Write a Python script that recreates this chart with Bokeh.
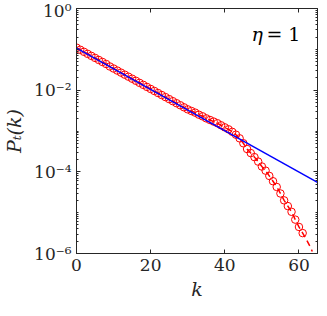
from bokeh.plotting import figure
from bokeh.models import LinearAxis, LogAxis, FixedTicker, CustomJSTickFormatter, Label
from bokeh.embed import file_html
from bokeh.resources import INLINE

# ---- data ----
k_data = list(range(0, 62))
p_data = [0.110, 0.0977, 0.0871, 0.0776, 0.0692, 0.0617, 0.0550, 0.0490, 0.0437, 0.0380,
          0.0339, 0.0302, 0.0269, 0.0240, 0.0214, 0.0191, 0.0170, 0.0151, 0.0135, 0.0120,
          0.0107, 0.00955, 0.00851, 0.00759, 0.00676, 0.00603, 0.00537, 0.00479, 0.00427, 0.00380,
          0.00339, 0.00309, 0.00282, 0.00251, 0.00229, 0.00204, 0.00186, 0.00170, 0.00155, 0.00138,
          0.00123, 0.00110, 0.000955, 0.000813, 0.000661, 0.000501, 0.000363, 0.000288, 0.000229, 0.000178,
          0.000135, 0.000107, 7.94e-5, 5.89e-5, 4.27e-5, 2.95e-5, 2.00e-5, 1.45e-5, 1.05e-5, 6.76e-6,
          4.47e-6, 3.16e-6]

fit_k = k_data + [62, 63, 63.6]
fit_p = p_data + [2.19e-6, 1.48e-6, 1.12e-6]

geom_k = [0, 65]
geom_p = [0.107, 5.5e-5]

x_ticks = [0, 20, 40, 60]
y_ticks = [1e-6, 1e-4, 1e-2, 1]
y_minor = [m * 10.0 ** e for e in range(-6, 0) for m in range(1, 10) if not (m == 1 and e % 2 == 0)]

TXT = "#262626"
FONT = "DejaVu Serif"

p = figure(width=319, height=308, y_axis_type="log", x_range=(0, 65), y_range=(1e-6, 1),
           output_backend="svg", toolbar_location=None,
           min_border_left=68, min_border_right=2, min_border_top=8, min_border_bottom=55)
p.grid.visible = False
p.outline_line_color = TXT
p.background_fill_color = "white"
p.border_fill_color = "white"

sup = CustomJSTickFormatter(code="""
const e = Math.round(Math.log10(tick));
const m = {'0':'\u2070','1':'\u00b9','2':'\u00b2','3':'\u00b3','4':'\u2074','5':'\u2075','6':'\u2076','7':'\u2077','8':'\u2078','9':'\u2079','-':'\u207b'};
return '10' + String(e).split('').map(c => m[c]).join('');
""")
blank = CustomJSTickFormatter(code="return '';")

def style(ax):
    ax.axis_line_color = TXT
    ax.major_tick_line_color = TXT
    ax.minor_tick_line_color = TXT
    ax.major_tick_in = 4
    ax.major_tick_out = 0
    ax.minor_tick_in = 2
    ax.minor_tick_out = 0
    ax.major_label_text_font = FONT
    ax.major_label_text_font_size = "17px"
    ax.major_label_text_color = TXT
    ax.axis_label_text_font = FONT
    ax.axis_label_text_font_size = "19px"
    ax.axis_label_text_font_style = "italic"
    ax.axis_label_text_color = TXT

def hide_labels(ax):
    ax.major_label_text_font_size = "0px"
    ax.major_label_standoff = 0
    ax.axis_label_standoff = 0

xt = FixedTicker(ticks=x_ticks, minor_ticks=[])
yt = FixedTicker(ticks=y_ticks, minor_ticks=y_minor)

xa = p.xaxis[0]
xa.ticker = xt
xa.axis_label = "k"
style(xa)
xa.minor_tick_line_color = None
xa.major_label_standoff = 5
xa.axis_label_standoff = 4

ya = p.yaxis[0]
ya.ticker = yt
ya.formatter = sup
ya.axis_label = "P\u209c(k)"
style(ya)
ya.major_label_standoff = 5
ya.axis_label_standoff = 6

top = LinearAxis(ticker=xt, formatter=blank)
style(top)
top.minor_tick_line_color = None
hide_labels(top)
p.add_layout(top, "above")

right = LogAxis(ticker=yt, formatter=blank)
style(right)
hide_labels(right)
p.add_layout(right, "right")

p.line(fit_k, fit_p, line_color="red", line_width=1.5, line_dash="6 4")
p.scatter(k_data, p_data, marker="circle", size=7.5, fill_color=None, line_color="red", line_width=1)
p.line(geom_k, geom_p, line_color="blue", line_width=1.5)

p.add_layout(Label(x=50.3, y=0.24, text="\u03b7", text_font=FONT, text_font_size="19px",
                   text_font_style="italic", text_color="black", text_align="right",
                   text_baseline="alphabetic"))
p.add_layout(Label(x=60.4, y=0.24, text="= 1", text_font=FONT, text_font_size="19px",
                   text_color="black", text_align="right", text_baseline="alphabetic"))

open("out.html", "w").write(file_html(p, INLINE))
